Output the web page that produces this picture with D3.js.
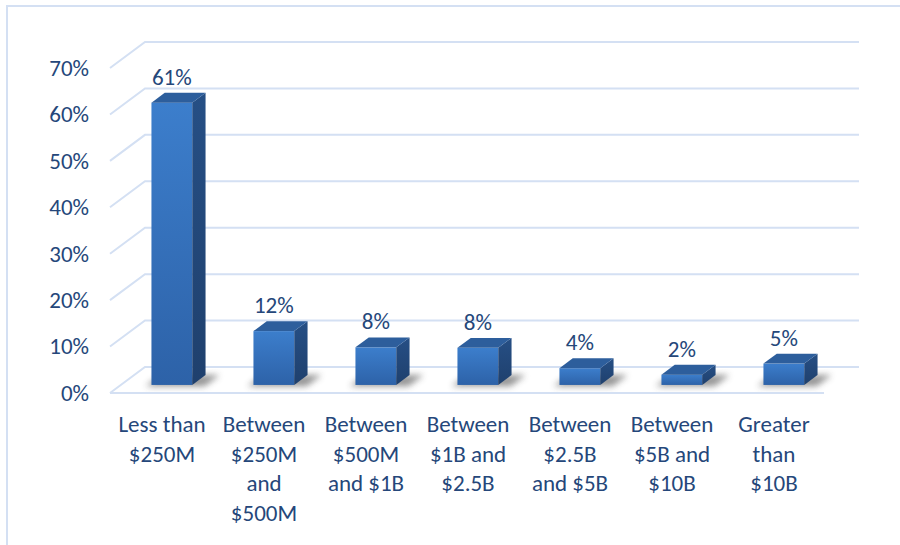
<!DOCTYPE html>
<html>
<head>
<meta charset="utf-8">
<script src="https://cdn.jsdelivr.net/npm/d3@7"></script>
<style>
  html, body { margin: 0; padding: 0; background: #fff; }
  svg { display: block; font-family: Calibri, Carlito, Lato, sans-serif; }
</style>
</head>
<body>
<div id="root"></div>
<script>
const categories = [
  "Less than\n$250M",
  "Between\n$250M\nand\n$500M",
  "Between\n$500M\nand $1B",
  "Between\n$1B and\n$2.5B",
  "Between\n$2.5B\nand $5B",
  "Between\n$5B and\n$10B",
  "Greater\nthan\n$10B",
];
const shares = [60.8, 11.6, 8.1, 8.0, 3.6, 2.2, 4.6];
const yTicks = [0, 10, 20, 30, 40, 50, 60, 70];

const width = 900;
const height = 545;
const textColor = "#25477a";
const gridColor = "#d4e0f3";
const fontSize = 23;

// depth of the 3d box in screen pixels
const depthX = 35;
const depthY = 26;
const barFront = 0.31;
const barBack = 0.69;

const svg = d3.select("#root").append("svg")
  .attr("width", width)
  .attr("height", height);

const defs = svg.append("defs");

const front = defs.append("linearGradient")
  .attr("id", "front").attr("x1", 0).attr("y1", 0).attr("x2", 0).attr("y2", 1);
front.append("stop").attr("offset", 0).attr("stop-color", "#3c7ecc");
front.append("stop").attr("offset", 1).attr("stop-color", "#2d62a8");

const side = defs.append("linearGradient")
  .attr("id", "side").attr("x1", 0).attr("y1", 0).attr("x2", 0).attr("y2", 1);
side.append("stop").attr("offset", 0).attr("stop-color", "#264f85");
side.append("stop").attr("offset", 1).attr("stop-color", "#1f406d");

defs.append("filter")
  .attr("id", "blur")
  .attr("x", "-50%").attr("y", "-50%").attr("width", "200%").attr("height", "200%")
  .append("feGaussianBlur").attr("stdDeviation", 3);

svg.append("rect")
  .attr("x", 7).attr("y", 6)
  .attr("width", width).attr("height", height)
  .attr("fill", "none")
  .attr("stroke", gridColor)
  .attr("stroke-width", 2);

const x = d3.scaleBand()
  .domain(categories)
  .range([110, 824])
  .paddingInner(0.6)
  .paddingOuter(0.3);

const y = d3.scaleLinear()
  .domain([0, 70])
  .range([393, 68]);

const shift = (px, py, z) => [px + depthX * z, py - depthY * z];

// walls and floor
const grid = svg.append("g")
  .attr("fill", "none")
  .attr("stroke", gridColor)
  .attr("stroke-width", 2);

grid.selectAll("path")
  .data(yTicks)
  .join("path")
  .attr("d", d => {
    const a = [110, y(d)];
    const b = shift(110, y(d), 1);
    return `M${a}L${b}H${824 + depthX}`;
  });

grid.append("line")
  .attr("x1", 110).attr("x2", 824)
  .attr("y1", y(0)).attr("y2", y(0));

// y axis
const yAxis = svg.append("g")
  .attr("transform", "translate(89,0)")
  .call(d3.axisLeft(y).tickValues(yTicks).tickSize(0).tickPadding(0)
    .tickFormat(d => d + "%"));
yAxis.select(".domain").remove();
yAxis.selectAll("text")
  .attr("fill", textColor)
  .attr("font-size", fontSize)
  .attr("font-family", "Calibri, Carlito, Lato, sans-serif");

// bars
const bars = svg.append("g")
  .selectAll("g")
  .data(categories.map((c, i) => ({ cat: c, value: shares[i] })))
  .join("g");

const geom = d => {
  const x0 = x(d.cat);
  const x1 = x0 + x.bandwidth();
  return {
    x0, x1,
    top: y(d.value),
    base: y(0),
  };
};

bars.append("path")
  .attr("fill", "#404040")
  .attr("opacity", 0.55)
  .attr("filter", "url(#blur)")
  .attr("d", d => {
    const g = geom(d);
    const p = [
      shift(g.x0 - 4, g.base, barFront - 0.05),
      shift(g.x1 + 14, g.base, barFront - 0.05),
      shift(g.x1 + 14, g.base, barBack),
      shift(g.x0 - 4, g.base, barBack),
    ];
    return `M${p.join("L")}Z`;
  });

bars.append("rect")
  .attr("x", d => shift(geom(d).x0, 0, barFront)[0])
  .attr("y", d => shift(0, geom(d).top, barFront)[1])
  .attr("width", x.bandwidth())
  .attr("height", d => geom(d).base - geom(d).top)
  .attr("fill", "url(#front)");

bars.append("path")
  .attr("fill", "url(#side)")
  .attr("d", d => {
    const g = geom(d);
    const p = [
      shift(g.x1, g.top, barFront),
      shift(g.x1, g.top, barBack),
      shift(g.x1, g.base, barBack),
      shift(g.x1, g.base, barFront),
    ];
    return `M${p.join("L")}Z`;
  });

bars.append("path")
  .attr("fill", "#2d5e9c")
  .attr("d", d => {
    const g = geom(d);
    const p = [
      shift(g.x0, g.top, barFront),
      shift(g.x1, g.top, barFront),
      shift(g.x1, g.top, barBack),
      shift(g.x0, g.top, barBack),
    ];
    return `M${p.join("L")}Z`;
  });

bars.append("text")
  .attr("x", d => shift(geom(d).x0 + x.bandwidth() / 2, 0, barFront)[0])
  .attr("y", d => shift(0, geom(d).top, barBack)[1] - 8)
  .attr("text-anchor", "middle")
  .attr("fill", textColor)
  .attr("font-size", fontSize)
  .text(d => Math.round(d.value) + "%");

// category labels
const labels = svg.append("g")
  .selectAll("text")
  .data(categories)
  .join("text")
  .attr("text-anchor", "middle")
  .attr("fill", textColor)
  .attr("font-size", fontSize)
  .attr("x", d => x(d) + x.bandwidth() / 2 + 1)
  .attr("y", 432);

labels.selectAll("tspan")
  .data(d => d.split("\n"))
  .join("tspan")
  .attr("x", function () { return this.parentNode.getAttribute("x"); })
  .attr("dy", (d, i) => (i === 0 ? 0 : 29.5))
  .text(d => d);
</script>
</body>
</html>
